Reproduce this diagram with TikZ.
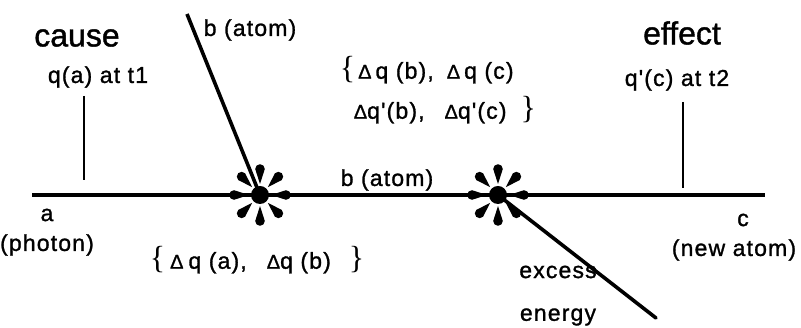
\documentclass[tikz,border=0pt]{standalone}
\usepackage{fontspec}
\setmainfont{Liberation Sans}
\newfontfamily\lblfont[LetterSpace=5, FakeBold=1.2]{Liberation Sans}
\newfontfamily\titlefont[FakeBold=1.2]{Liberation Sans}
\newfontfamily\bracefont{Liberation Serif}
\newcommand{\dq}{{\fontsize{20}{20}\selectfont Δ}}
\newcommand{\lbr}{{\bracefont\fontsize{32}{32}\selectfont\{}}
\newcommand{\rbr}{{\bracefont\fontsize{32}{32}\selectfont\}}}
\usepackage{tikz}
\usetikzlibrary{positioning, calc}

\tikzset{
  burst/.pic={
    \foreach \a in {0,45,...,315}
      \fill[rotate=\a] (11,0) -- (26,4.8) arc[start angle=90, end angle=-90, radius=4.8] -- cycle;
  }
}

\begin{document}
\begin{tikzpicture}[x=1pt, y=1pt, line width=3.6pt,
  lbl/.style={inner sep=0pt, font=\lblfont\fontsize{23}{26}\selectfont},
  title/.style={inner sep=0pt, font=\titlefont\fontsize{32}{36}\selectfont},
  hit/.style={circle, fill, inner sep=0pt, minimum size=18pt},
  tick/.style={line width=1.2pt}]
  \useasboundingbox (0,0) rectangle (801,328);

  % collisions
  \node[hit] (hit1) at (260,133) {};
  \node[hit] (hit2) at (498,133) {};
  \pic at (hit1.center) {burst};
  \pic at (hit2.center) {burst};

  % tracks
  \coordinate (astart) at (32,133);
  \coordinate (cend) at (765,133);
  \coordinate (bstart) at (187,314);
  \coordinate (xend) at (656,10);
  \draw (astart) -- (hit1.center) -- (hit2.center) -- (cend);
  \draw (bstart) -- (hit1.center);
  \draw[line cap=round] (hit2.center) -- (xend);

  % labels
  \node[title] (cause) at (77,290) {cause};
  \node[lbl] (qa) at (98,251) {q(a) at t1};
  \node[title] (effect) at (682,295) {effect};
  \node[lbl] (qc) at (677,248) {q'(c) at t2};
  \coordinate (tick1top) at (84,232);
  \coordinate (tick1bot) at (84,148);
  \coordinate (tick2top) at (683,226);
  \coordinate (tick2bot) at (683,140);
  \draw[tick] (tick1top) -- (tick1bot);
  \draw[tick] (tick2top) -- (tick2bot);

  \node[lbl] (bin) at (250,298) {b (atom)};
  \node[lbl] (bmid) at (387,148) {b (atom)};
  \node[lbl] (a) at (47,113) {a};
  \node[lbl] (photon) at (47,83) {(photon)};
  \node[lbl] (c) at (743,108) {c};
  \node[lbl] (newatom) at (734,78) {(new atom)};
  \node[lbl] (excess) at (558,56) {excess};
  \node[lbl] (energy) at (558,11) {energy};

  \node[lbl] (set1) at (257,68)
    {\lbr\hspace{5pt}\dq\hspace{5pt}q (a),\hspace{20pt}\dq q (b)\hspace{18pt}\rbr};
  \node[lbl, anchor=west] (set2a) at (338,258)
    {\lbr\hspace{3pt}\dq\hspace{4pt}q (b),\hspace{13pt}\dq\hspace{4pt}q (c)};
  \node[lbl, anchor=west] (set2b) at (352,218)
    {\dq q'(b),\hspace{20pt}\dq q'(c)\hspace{14pt}\rbr};
\end{tikzpicture}
\end{document}
